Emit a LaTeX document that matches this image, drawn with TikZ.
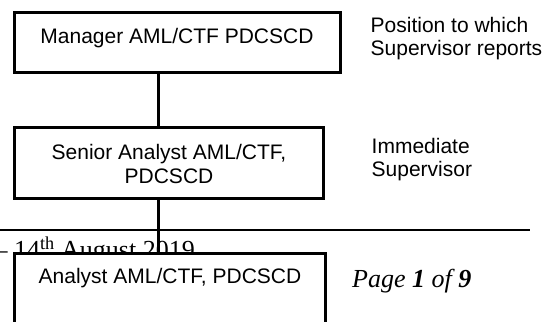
\documentclass[tikz,border=0pt]{standalone}
\usepackage{fontspec}
\setmainfont{Liberation Serif}
\newfontfamily\arialfont{Liberation Sans}
\begin{document}
\begin{tikzpicture}[x=1pt,y=-1pt,
  box/.style={draw, line width=3pt, fill=white, inner sep=0pt},
  boxtext/.style={font=\arialfont\fontsize{21}{23.4}\selectfont, inner sep=0pt, anchor=base, align=center},
  sidetext/.style={font=\arialfont\fontsize{21}{23.6}\selectfont, inner sep=0pt, anchor=base west, align=left},
  foot/.style={font=\fontsize{26}{30}\selectfont, inner sep=0pt},
  conn/.style={line width=3pt},
  rule/.style={line width=2pt}]
\useasboundingbox (0,0) rectangle (551,321);
\clip (0,0) rectangle (551,321);
% boxes
\node[box, minimum width=326pt, minimum height=60pt] (m) at (177,42.5) {};
\node[box, minimum width=309pt, minimum height=71pt] (s) at (168.5,163) {};
\node[boxtext] (mt) at (177,44) {Manager AML/CTF PDCSCD};
\node[boxtext] (st) at (169,183.3) {Senior Analyst AML/CTF,\\PDCSCD};
% side labels
\node[sidetext] (pl) at (370.5,55.9) {Position to which\\Supervisor reports};
\node[sidetext] (il) at (371.5,176.6) {Immediate\\Supervisor};
% connector 1
\coordinate (cx) at (158,0);
\draw[conn] (m.south -| cx) -- (s.north -| cx);
% footer rule and text
\coordinate (hl0) at (0,230);
\coordinate (hl1) at (530,230);
\draw[rule] (hl0) -- (hl1);
\node[foot, anchor=base east] (date) at (195,258.3) {– 14\textsuperscript{th} August 2019};
% box 3
\node[box, minimum width=311pt, minimum height=100pt] (a) at (169.5,303.5) {};
\node[boxtext] (at) at (170,283.3) {Analyst AML/CTF, PDCSCD};
\draw[conn] (s.south -| cx) -- (a.north -| cx);
% page number
\node[foot, anchor=base west] (pg) at (352,287.7) {\textit{Page \textbf{1} of \textbf{9}}};
\end{tikzpicture}
\end{document}
